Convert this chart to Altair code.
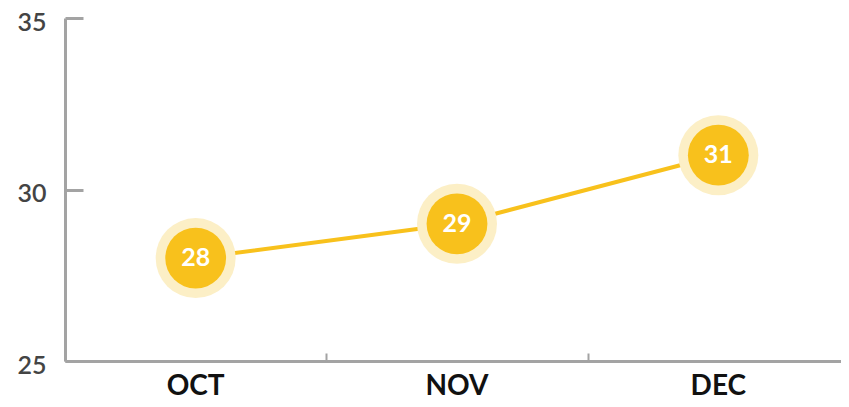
import altair as alt
import pandas as pd

months = ["OCT", "NOV", "DEC"]
values = [28, 29, 31]
y_ticks_vals = [25, 30, 35]

df = pd.DataFrame({"month": months, "value": values})

W, H = 776, 343
RANGE_W = 784
LINE = "#F8C11C"
HALO = "#FCEFC6"
AXIS = "#A3A3A3"

xs = alt.Scale(domain=months, paddingInner=0, paddingOuter=0, range=[0, RANGE_W])
ys = alt.Scale(domain=[25, 35], nice=False, zero=False)

x_main = alt.X("month:N", sort=months, title=None, scale=xs,
               axis=alt.Axis(orient="bottom", ticks=False, domainColor=AXIS, domainWidth=3,
                             labelAngle=0, labelFont="Lato", labelFontWeight="bold",
                             labelFontSize=28, labelColor="#111111", labelPadding=11))
y_main = alt.Y("value:Q", title=None, scale=ys,
               axis=alt.Axis(orient="left", values=y_ticks_vals, ticks=False, domainColor=AXIS,
                             domainWidth=3, labelFont="Lato", labelFontWeight=600,
                             labelFontSize=25, labelColor="#444444", labelPadding=19,
                             labelBaseline="middle", labelOffset=4, grid=False))

line = alt.Chart(df).mark_line(color=LINE, strokeWidth=4).encode(x=x_main, y=y_main)

x_ticks = alt.X("month:N", sort=months, title=None, scale=xs,
                axis=alt.Axis(orient="top", offset=-H, labels=False, domain=False,
                              ticks=True, tickBand="extent", tickSize=8, tickWidth=2,
                              tickColor=AXIS, grid=False))
y_ticks = alt.Y("value:Q", title=None, scale=ys,
                axis=alt.Axis(orient="right", offset=-W, labels=False, domain=False,
                              values=y_ticks_vals, ticks=True, tickSize=18, tickWidth=3,
                              tickColor=AXIS, grid=False))

x_none = alt.X("month:N", sort=months, scale=xs, axis=None)
y_none = alt.Y("value:Q", scale=ys, axis=None)

halo = alt.Chart(df).mark_circle(color=HALO, opacity=1, size=6400).encode(x=x_ticks, y=y_ticks)
core = alt.Chart(df).mark_circle(color=LINE, opacity=1, size=3700).encode(x=x_none, y=y_none)
labels = alt.Chart(df).mark_text(color="white", font="Lato", fontWeight="bold", fontSize=25,
                                 baseline="middle", align="center").encode(
    x=x_none, y=y_none, text="value:Q")

chart = (line + halo + core + labels).resolve_axis(x="independent", y="independent").properties(
    width=W, height=H,
    autosize=alt.AutoSizeParams(type="none"),
    padding={"left": 57, "top": 10, "right": 0, "bottom": 38},
).configure_view(stroke=None).configure_axis(grid=False)

chart.save("out.html", embed_options={"renderer": "svg", "actions": False})
